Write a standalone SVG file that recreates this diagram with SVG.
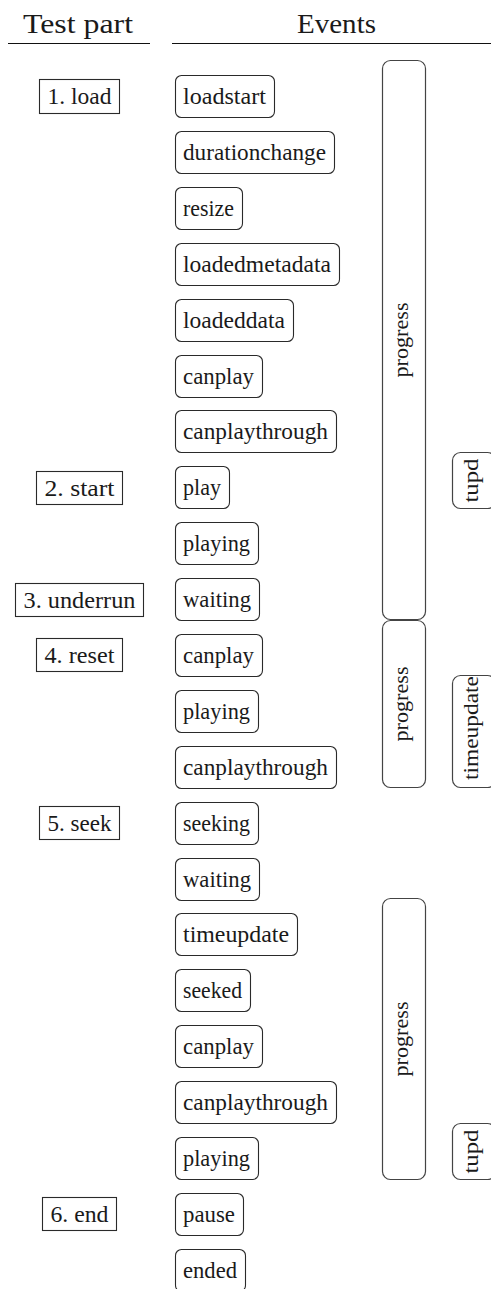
<svg xmlns="http://www.w3.org/2000/svg" width="491" height="1289" viewBox="0 0 491 1289">
<style>
.f{font-family:"Liberation Serif","Times New Roman",serif;fill:#1a1a1a}
.h{font-size:28px;text-anchor:middle}
.t{font-size:22.5px}
.ev{fill:#fff;stroke:#2a2a2a;stroke-width:1.1}
.tp{fill:#fff;stroke:#2a2a2a;stroke-width:1.1}
.bar{fill:#fff;stroke:#444;stroke-width:1.2}
.rl{font-size:22px;text-anchor:middle}
</style>
<rect width="491" height="1289" fill="#fff"/>
<g id="header" class="f">
<text class="h" x="78" y="33" textLength="110" lengthAdjust="spacingAndGlyphs">Test part</text>
<text class="h" x="336.5" y="33" textLength="79" lengthAdjust="spacingAndGlyphs">Events</text>
<line x1="8" y1="43.5" x2="150" y2="43.5" stroke="#111" stroke-width="1.2"/>
<line x1="172" y1="43.5" x2="491" y2="43.5" stroke="#111" stroke-width="1.2"/>
</g>
<g id="bars" class="f">
<g id="progress1"><rect class="bar" x="382.5" y="60.5" width="43" height="559" rx="8"/><text class="rl" transform="translate(408,340) rotate(-90)" textLength="75" lengthAdjust="spacingAndGlyphs">progress</text></g>
<g id="progress2"><rect class="bar" x="382.5" y="620.5" width="43" height="167" rx="8"/><text class="rl" transform="translate(408,704) rotate(-90)" textLength="75" lengthAdjust="spacingAndGlyphs">progress</text></g>
<g id="progress3"><rect class="bar" x="382.5" y="898.5" width="43" height="281" rx="8"/><text class="rl" transform="translate(408,1039) rotate(-90)" textLength="75" lengthAdjust="spacingAndGlyphs">progress</text></g>
<g id="tupd1"><rect class="bar" x="452.5" y="452.5" width="43" height="56" rx="8"/><text class="rl" transform="translate(478,480.5) rotate(-90)" textLength="44" lengthAdjust="spacingAndGlyphs">tupd</text></g>
<g id="timeupdate"><rect class="bar" x="452.5" y="675.5" width="43" height="112" rx="8"/><text class="rl" transform="translate(478,728) rotate(-90)" textLength="104" lengthAdjust="spacingAndGlyphs">timeupdate</text></g>
<g id="tupd2"><rect class="bar" x="452.5" y="1123.5" width="43" height="56" rx="8"/><text class="rl" transform="translate(478,1151.5) rotate(-90)" textLength="44" lengthAdjust="spacingAndGlyphs">tupd</text></g>
</g>
<g id="parts" class="f">
<g id="p1"><rect class="tp" x="39.5" y="79.5" width="80" height="34"/><text class="t" x="47.5" y="104" textLength="64" lengthAdjust="spacingAndGlyphs">1. load</text></g>
<g id="p2"><rect class="tp" x="36.5" y="471.5" width="86" height="33"/><text class="t" x="44.5" y="496" textLength="70" lengthAdjust="spacingAndGlyphs">2. start</text></g>
<g id="p3"><rect class="tp" x="15.5" y="583.5" width="128" height="33"/><text class="t" x="23.5" y="608" textLength="112" lengthAdjust="spacingAndGlyphs">3. underrun</text></g>
<g id="p4"><rect class="tp" x="36.5" y="638.5" width="86" height="33"/><text class="t" x="44.5" y="663" textLength="70" lengthAdjust="spacingAndGlyphs">4. reset</text></g>
<g id="p5"><rect class="tp" x="39.5" y="806.5" width="80" height="33"/><text class="t" x="47.5" y="831" textLength="64" lengthAdjust="spacingAndGlyphs">5. seek</text></g>
<g id="p6"><rect class="tp" x="42.5" y="1197.5" width="74" height="33"/><text class="t" x="50.5" y="1222" textLength="58" lengthAdjust="spacingAndGlyphs">6. end</text></g>
</g>
<g id="events" class="f">
<g id="e0"><rect class="ev" x="175.5" y="75.5" width="99" height="42" rx="6"/><text class="t" x="183" y="103.5" textLength="83" lengthAdjust="spacingAndGlyphs">loadstart</text></g>
<g id="e1"><rect class="ev" x="175.5" y="131.5" width="159" height="42" rx="6"/><text class="t" x="183" y="159.5" textLength="143" lengthAdjust="spacingAndGlyphs">durationchange</text></g>
<g id="e2"><rect class="ev" x="175.5" y="187.5" width="67" height="42" rx="6"/><text class="t" x="183" y="215.5" textLength="51" lengthAdjust="spacingAndGlyphs">resize</text></g>
<g id="e3"><rect class="ev" x="175.5" y="243.5" width="164" height="42" rx="6"/><text class="t" x="183" y="271.5" textLength="148" lengthAdjust="spacingAndGlyphs">loadedmetadata</text></g>
<g id="e4"><rect class="ev" x="175.5" y="299.5" width="118" height="42" rx="6"/><text class="t" x="183" y="327.5" textLength="102" lengthAdjust="spacingAndGlyphs">loadeddata</text></g>
<g id="e5"><rect class="ev" x="175.5" y="355.5" width="87" height="42" rx="6"/><text class="t" x="183" y="383.5" textLength="71" lengthAdjust="spacingAndGlyphs">canplay</text></g>
<g id="e6"><rect class="ev" x="175.5" y="410.5" width="161" height="42" rx="6"/><text class="t" x="183" y="438.5" textLength="145" lengthAdjust="spacingAndGlyphs">canplaythrough</text></g>
<g id="e7"><rect class="ev" x="175.5" y="466.5" width="54" height="42" rx="6"/><text class="t" x="183" y="494.5" textLength="38" lengthAdjust="spacingAndGlyphs">play</text></g>
<g id="e8"><rect class="ev" x="175.5" y="522.5" width="83" height="42" rx="6"/><text class="t" x="183" y="550.5" textLength="67" lengthAdjust="spacingAndGlyphs">playing</text></g>
<g id="e9"><rect class="ev" x="175.5" y="578.5" width="84" height="42" rx="6"/><text class="t" x="183" y="606.5" textLength="68" lengthAdjust="spacingAndGlyphs">waiting</text></g>
<g id="e10"><rect class="ev" x="175.5" y="634.5" width="87" height="42" rx="6"/><text class="t" x="183" y="662.5" textLength="71" lengthAdjust="spacingAndGlyphs">canplay</text></g>
<g id="e11"><rect class="ev" x="175.5" y="690.5" width="83" height="42" rx="6"/><text class="t" x="183" y="718.5" textLength="67" lengthAdjust="spacingAndGlyphs">playing</text></g>
<g id="e12"><rect class="ev" x="175.5" y="746.5" width="161" height="42" rx="6"/><text class="t" x="183" y="774.5" textLength="145" lengthAdjust="spacingAndGlyphs">canplaythrough</text></g>
<g id="e13"><rect class="ev" x="175.5" y="802.5" width="83" height="42" rx="6"/><text class="t" x="183" y="830.5" textLength="67" lengthAdjust="spacingAndGlyphs">seeking</text></g>
<g id="e14"><rect class="ev" x="175.5" y="858.5" width="84" height="42" rx="6"/><text class="t" x="183" y="886.5" textLength="68" lengthAdjust="spacingAndGlyphs">waiting</text></g>
<g id="e15"><rect class="ev" x="175.5" y="913.5" width="122" height="42" rx="6"/><text class="t" x="183" y="941.5" textLength="106" lengthAdjust="spacingAndGlyphs">timeupdate</text></g>
<g id="e16"><rect class="ev" x="175.5" y="969.5" width="75" height="42" rx="6"/><text class="t" x="183" y="997.5" textLength="59" lengthAdjust="spacingAndGlyphs">seeked</text></g>
<g id="e17"><rect class="ev" x="175.5" y="1025.5" width="87" height="42" rx="6"/><text class="t" x="183" y="1053.5" textLength="71" lengthAdjust="spacingAndGlyphs">canplay</text></g>
<g id="e18"><rect class="ev" x="175.5" y="1081.5" width="161" height="42" rx="6"/><text class="t" x="183" y="1109.5" textLength="145" lengthAdjust="spacingAndGlyphs">canplaythrough</text></g>
<g id="e19"><rect class="ev" x="175.5" y="1137.5" width="83" height="42" rx="6"/><text class="t" x="183" y="1165.5" textLength="67" lengthAdjust="spacingAndGlyphs">playing</text></g>
<g id="e20"><rect class="ev" x="175.5" y="1193.5" width="68" height="42" rx="6"/><text class="t" x="183" y="1221.5" textLength="52" lengthAdjust="spacingAndGlyphs">pause</text></g>
<g id="e21"><rect class="ev" x="175.5" y="1249.5" width="70" height="42" rx="6"/><text class="t" x="183" y="1277.5" textLength="54" lengthAdjust="spacingAndGlyphs">ended</text></g>
</g>
<g id="connectors"></g>
</svg>
